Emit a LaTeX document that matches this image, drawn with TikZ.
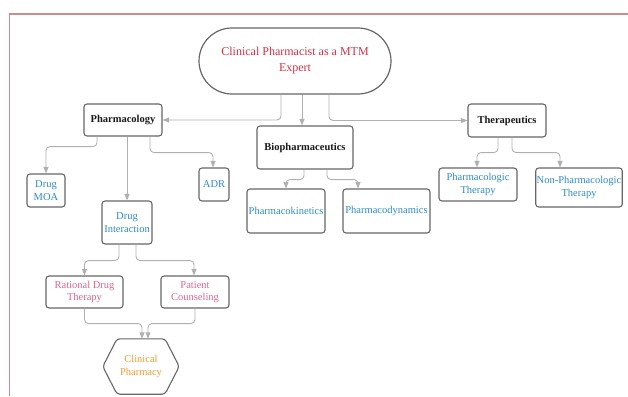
\documentclass[tikz,border=0pt]{standalone}
\usepackage{fontspec}
\setmainfont{Liberation Serif}
\usetikzlibrary{arrows.meta}

\definecolor{framecol}{HTML}{CF8C8C}
\definecolor{boxgray}{HTML}{666666}
\definecolor{linkgray}{HTML}{B0B0B0}
\definecolor{titlered}{HTML}{D62F45}
\definecolor{topicblue}{HTML}{2B8CC8}
\definecolor{practpink}{HTML}{E0648E}
\definecolor{resultorange}{HTML}{F29A2E}

\tikzset{
  box/.style={draw=boxgray, line width=1.1pt, rounded corners=3pt, align=center,
    inner sep=1pt, font=\fontsize{10.5}{12.5}\selectfont},
  head/.style={box, text=black!90, font=\fontsize{10.5}{12.5}\selectfont\bfseries},
  topic/.style={box, text=topicblue},
  pract/.style={box, text=practpink},
  link/.style={draw=linkgray, line width=0.9pt, rounded corners=4pt,
    -{Triangle[length=6.5pt,width=5pt]}},
}

\begin{document}
\begin{tikzpicture}[x=1pt,y=-1pt]
\useasboundingbox (0,0) rectangle (628,396);

% page frame
\draw[framecol, line width=1.4pt] (9.5,396) -- (9.5,14) -- (628,14);

% central topic
\node[draw=boxgray, line width=1.2pt, rounded corners=33pt, minimum width=192pt,
  minimum height=66pt, align=center, text=titlered,
  font=\fontsize{12}{16}\selectfont] (title) at (295,61)
  {Clinical Pharmacist as a MTM\\Expert};

% main branches
\node[head, minimum width=78pt, minimum height=32pt] (pharm) at (123,120) {Pharmacology};
\node[head, minimum width=96pt, minimum height=43pt] (bio) at (305,147.5) {Biopharmaceutics};
\node[head, minimum width=78pt, minimum height=33pt] (ther) at (507,120.5) {Therapeutics};

% pharmacology sub-topics
\node[topic, minimum width=38pt, minimum height=33pt] (moa) at (46,190.5) {Drug\\MOA};
\node[topic, minimum width=50pt, minimum height=43pt] (inter) at (127,222.5) {Drug\\Interaction};
\node[topic, minimum width=30pt, minimum height=33pt] (adr) at (214,184.5) {ADR};

% biopharmaceutics sub-topics
\node[topic, minimum width=78pt, minimum height=44pt] (pk) at (286,211) {Pharmacokinetics};
\node[topic, minimum width=87pt, minimum height=44pt] (pd) at (386.5,211) {Pharmacodynamics};

% therapeutics sub-topics
\node[topic, minimum width=78pt, minimum height=33pt] (pt) at (478,184.5) {Pharmacologic\\Therapy};
\node[topic, minimum width=86pt, minimum height=39pt] (npt) at (579,187.5) {Non-Pharmacologic\\Therapy};

% practice outcomes
\node[pract, minimum width=77pt, minimum height=32pt] (rdt) at (84.5,292) {Rational Drug\\Therapy};
\node[pract, minimum width=68pt, minimum height=32pt] (pc) at (195,292) {Patient\\Counseling};

% hexagon result
\node[minimum width=76pt, minimum height=55pt, align=center, inner sep=0pt,
  text=resultorange, font=\fontsize{10.5}{12.5}\selectfont] (cp) at (141,366.5)
  {Clinical\\Pharmacy};
\draw[draw=boxgray, line width=1.1pt, rounded corners=3pt]
  (cp.west) -- ([xshift=-24pt]cp.north) -- ([xshift=24pt]cp.north) -- (cp.east)
  -- ([xshift=24pt]cp.south) -- ([xshift=-24pt]cp.south) -- cycle;

% connectors
\draw[link] ([xshift=-14pt]title.south) |- (pharm.east);
\draw[link] ([xshift=7pt]title.south) -- ([xshift=-3pt]bio.north);
\draw[link] ([xshift=34pt]title.south) |- (ther.west);

\draw[link] ([xshift=-26pt]pharm.south) -- ++(0,10) -| (moa.north);
\draw[link] (pharm.south -| inter.north) -- (inter.north);
\draw[link] ([xshift=27pt]pharm.south) -- ++(0,16) -| ([xshift=-1pt]adr.north);

\draw[link] ([xshift=-1pt]bio.south) -- ++(0,10) -| (pk.north);
\draw[link] ([xshift=22pt]bio.south) -- ++(0,10) -| ([xshift=-28.5pt]pd.north);

\draw[link] ([xshift=-9pt]ther.south) -- ++(0,15) -| ([xshift=-1pt]pt.north);
\draw[link] ([xshift=5pt]ther.south) -- ++(0,15) -| ([xshift=-19pt]npt.north);

\draw[link] ([xshift=-8pt]inter.south) -- ++(0,16) -| (rdt.north);
\draw[link] ([xshift=9pt]inter.south) -- ++(0,16) -| ([xshift=-1pt]pc.north);

\draw[link] (rdt.south) -- ++(0,15) -| ([xshift=1pt]cp.north);
\draw[link] (pc.south) -- ++(0,15) -| ([xshift=7pt]cp.north);
\end{tikzpicture}
\end{document}
